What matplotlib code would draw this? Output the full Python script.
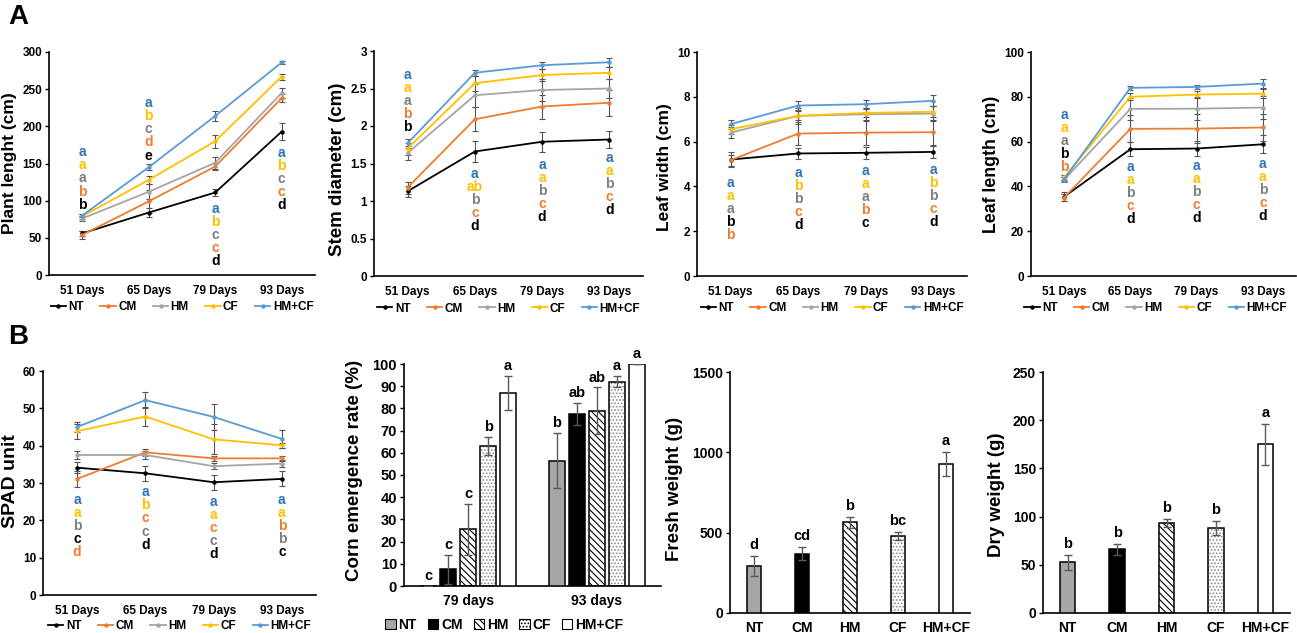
import numpy as np
import matplotlib
matplotlib.use("Agg")
import matplotlib.pyplot as plt
from matplotlib.lines import Line2D
from matplotlib.patches import Patch

plt.rcParams['font.family'] = ['Liberation Sans', 'DejaVu Sans']
plt.rcParams['font.weight'] = 'bold'
plt.rcParams['hatch.linewidth'] = 0.8

treatments = ['NT', 'CM', 'HM', 'CF', 'HM+CF']
days = ['51 Days', '65 Days', '79 Days', '93 Days']
line_colors = {'NT': 'black', 'CM': '#ED7D31', 'HM': '#A5A5A5', 'CF': '#FFC000', 'HM+CF': '#5B9BD5'}
letter_colors = {'NT': 'black', 'CM': '#ED7D31', 'HM': '#7F7F7F', 'CF': '#FFC000', 'HM+CF': '#2E75B6'}

# ---- Row A / B1 line data (mean, error) per treatment over days
plant_len = {'NT': [56, 84, 111, 193], 'CM': [54, 99, 146, 238], 'HM': [76, 112, 151, 245],
             'CF': [79, 128, 180, 267], 'HM+CF': [80, 145, 214, 286]}
plant_len_err = {'NT': [3, 6, 5, 12], 'CM': [5, 15, 5, 5], 'HM': [3, 10, 8, 7],
                 'CF': [3, 5, 9, 4], 'HM+CF': [2, 4, 7, 2]}

stem_dia = {'NT': [1.13, 1.66, 1.79, 1.82], 'CM': [1.18, 2.09, 2.26, 2.31], 'HM': [1.64, 2.41, 2.48, 2.50],
            'CF': [1.70, 2.57, 2.68, 2.71], 'HM+CF': [1.77, 2.71, 2.81, 2.85]}
stem_dia_err = {'NT': [0.07, 0.14, 0.13, 0.11], 'CM': [0.08, 0.16, 0.16, 0.17], 'HM': [0.09, 0.15, 0.15, 0.13],
                'CF': [0.08, 0.10, 0.08, 0.08], 'HM+CF': [0.06, 0.04, 0.05, 0.06]}

leaf_wid = {'NT': [5.2, 5.47, 5.5, 5.54], 'CM': [5.17, 6.36, 6.4, 6.42], 'HM': [6.4, 7.15, 7.22, 7.25],
            'CF': [6.55, 7.15, 7.28, 7.33], 'HM+CF': [6.78, 7.61, 7.67, 7.82]}
leaf_wid_err = {'NT': [0.33, 0.25, 0.27, 0.25], 'CM': [0.25, 0.5, 0.55, 0.55], 'HM': [0.25, 0.35, 0.3, 0.35],
                'CF': [0.2, 0.2, 0.2, 0.25], 'HM+CF': [0.2, 0.2, 0.2, 0.25]}

leaf_len = {'NT': [35.4, 56.6, 56.9, 58.8], 'CM': [35, 65.7, 65.8, 66.3], 'HM': [43, 74.6, 74.7, 75.2],
            'CF': [44, 80, 81, 81.4], 'HM+CF': [43.2, 84, 84.4, 85.9]}
leaf_len_err = {'NT': [2, 3, 3.5, 4], 'CM': [1.5, 6, 6.5, 6], 'HM': [1, 5, 5, 5],
                'CF': [1, 1.5, 1.5, 2], 'HM+CF': [1, 1, 1, 2]}

spad = {'NT': [34.1, 32.6, 30.2, 31.1], 'CM': [31.1, 38.2, 36.6, 36.6], 'HM': [37.5, 37.5, 34.5, 35.2],
        'CF': [43.9, 47.8, 41.7, 40.1], 'HM+CF': [45, 52.2, 47.7, 41.8]}
spad_err = {'NT': [1.5, 2, 2, 2], 'CM': [2.2, 1, 0.6, 0.6], 'HM': [1.2, 1, 0.8, 1],
            'CF': [2, 2.5, 4, 0.6], 'HM+CF': [1.3, 2.2, 3.5, 2.5]}

# significance letters: list of (treatment, letter) top to bottom for each day
plant_letters = [
    [('HM+CF', 'a'), ('CF', 'a'), ('HM', 'a'), ('CM', 'b'), ('NT', 'b')],
    [('HM+CF', 'a'), ('CF', 'b'), ('HM', 'c'), ('CM', 'd'), ('NT', 'e')],
    [('HM+CF', 'a'), ('CF', 'b'), ('HM', 'c'), ('CM', 'c'), ('NT', 'd')],
    [('HM+CF', 'a'), ('CF', 'b'), ('HM', 'c'), ('CM', 'c'), ('NT', 'd')]]
plant_letter_top = [165, 231, 89, 164]

stem_letters = [
    [('HM+CF', 'a'), ('CF', 'a'), ('HM', 'a'), ('CM', 'b'), ('NT', 'b')],
    [('HM+CF', 'a'), ('CF', 'ab'), ('HM', 'b'), ('CM', 'c'), ('NT', 'd')],
    [('HM+CF', 'a'), ('CF', 'a'), ('HM', 'b'), ('CM', 'c'), ('NT', 'd')],
    [('HM+CF', 'a'), ('CF', 'a'), ('HM', 'b'), ('CM', 'c'), ('NT', 'd')]]
stem_letter_top = [2.68, 1.36, 1.48, 1.57]

wid_letters = [
    [('HM+CF', 'a'), ('CF', 'a'), ('HM', 'a'), ('NT', 'b'), ('CM', 'b')],
    [('HM+CF', 'a'), ('CF', 'b'), ('HM', 'b'), ('CM', 'c'), ('NT', 'd')],
    [('HM+CF', 'a'), ('CF', 'a'), ('HM', 'a'), ('CM', 'b'), ('NT', 'c')],
    [('HM+CF', 'a'), ('CF', 'b'), ('HM', 'b'), ('CM', 'c'), ('NT', 'd')]]
wid_letter_top = [4.16, 4.6, 4.68, 4.75]

len_letters = [
    [('HM+CF', 'a'), ('CF', 'a'), ('HM', 'a'), ('NT', 'b'), ('CM', 'b')],
    [('HM+CF', 'a'), ('CF', 'a'), ('HM', 'b'), ('CM', 'c'), ('NT', 'd')],
    [('HM+CF', 'a'), ('CF', 'a'), ('HM', 'b'), ('CM', 'c'), ('NT', 'd')],
    [('HM+CF', 'a'), ('CF', 'a'), ('HM', 'b'), ('CM', 'c'), ('NT', 'd')]]
len_letter_top = [72, 48.7, 49.2, 50.2]

spad_letters = [
    [('HM+CF', 'a'), ('CF', 'a'), ('HM', 'b'), ('NT', 'c'), ('CM', 'd')],
    [('HM+CF', 'a'), ('CF', 'b'), ('CM', 'c'), ('HM', 'c'), ('NT', 'd')],
    [('HM+CF', 'a'), ('CF', 'a'), ('CM', 'c'), ('HM', 'c'), ('NT', 'd')],
    [('HM+CF', 'a'), ('CF', 'a'), ('CM', 'b'), ('HM', 'b'), ('NT', 'c')]]
spad_letter_top = [25.4, 27.5, 25, 25.4]

# ---- Bar data
emerg_days = ['79 days', '93 days']
emergence = {'NT': [0, 56.5], 'CM': [7.5, 77.5], 'HM': [25.5, 79], 'CF': [63, 92], 'HM+CF': [87, 100]}
emergence_err = {'NT': [0, 12.5], 'CM': [6.5, 5], 'HM': [11.5, 10.5], 'CF': [4, 2.5], 'HM+CF': [7.5, 0]}
emergence_letters = {'NT': ['c', 'b'], 'CM': ['c', 'ab'], 'HM': ['c', 'ab'], 'CF': ['b', 'a'], 'HM+CF': ['a', 'a']}

fresh_w = [293, 370, 564, 481, 928]
fresh_err = [60, 40, 33, 25, 73]
fresh_letters = ['d', 'cd', 'b', 'bc', 'a']

dry_w = [52.4, 65.9, 93.3, 88.4, 175]
dry_err = [8, 6, 4, 7, 21]
dry_letters = ['b', 'b', 'b', 'b', 'a']

bar_style = {
    'NT': dict(facecolor='#A6A6A6', hatch=None, hatchcolor=None),
    'CM': dict(facecolor='black', hatch=None, hatchcolor=None),
    'HM': dict(facecolor='white', hatch='\\\\\\\\\\', hatchcolor='black'),
    'CF': dict(facecolor='white', hatch='.....', hatchcolor='#8C8C8C'),
    'HM+CF': dict(facecolor='white', hatch=None, hatchcolor=None),
}

W, H = 1297, 633
fig = plt.figure(figsize=(W / 100, H / 100), dpi=100)


def px_axes(left, top, right, bottom):
    return fig.add_axes([left / W, 1 - bottom / H, (right - left) / W, (bottom - top) / H])


def style_axes(ax, lw=1.2):
    for s in ['top', 'right']:
        ax.spines[s].set_visible(False)
    for s in ['left', 'bottom']:
        ax.spines[s].set_linewidth(lw)
        ax.spines[s].set_color('black')


def line_panel(ax, data, err, ymax, ystep, ylabel, letters, letter_top, ylab_xy, lab_size=13,
               fmt='{:g}', leg_xy=(0.5, -0.145)):
    style_axes(ax)
    x = np.arange(len(days))
    for t in treatments:
        ax.errorbar(x, data[t], yerr=err[t], color=line_colors[t], lw=1.3, marker='o', ms=2.2,
                    ecolor='#555555', elinewidth=0.8, capsize=2, capthick=0.8, zorder=3)
    ax.set_xlim(-0.5, len(days) - 0.5)
    ax.set_ylim(0, ymax)
    yt = np.arange(0, ymax + ystep / 2, ystep)
    ax.set_yticks(yt)
    ax.set_yticklabels([fmt.format(round(v, 3)) for v in yt])
    ax.set_xticks(x)
    ax.set_xticklabels(days)
    ax.tick_params(axis='x', length=0, labelsize=8.5, pad=7)
    ax.tick_params(axis='y', length=3, width=1, labelsize=8.5, pad=2)
    ax.set_ylabel(ylabel, fontsize=lab_size, fontweight='bold')
    ax.yaxis.set_label_coords(*ylab_xy)
    for i, col in enumerate(letters):
        for k, (t, let) in enumerate(col):
            ax.annotate(let, xy=(i, letter_top[i]), xytext=(0, -9.4 * k), textcoords='offset points',
                        ha='center', va='center', fontsize=10, fontweight='bold',
                        color=letter_colors[t], annotation_clip=False)
    handles = [Line2D([], [], color=line_colors[t], lw=1.3, marker='o', ms=2.2) for t in treatments]
    ax.legend(handles, treatments, loc='center', bbox_to_anchor=leg_xy, ncol=5, frameon=False,
              fontsize=8.5, handlelength=1.3, handletextpad=0.2, columnspacing=1.4, borderaxespad=0)


def draw_bar(ax, x, h, width, t, err=None):
    st = bar_style[t]
    if st['hatch']:
        ax.bar(x, h, width, color=st['facecolor'], edgecolor=st['hatchcolor'], hatch=st['hatch'],
               linewidth=0, zorder=2)
        ax.bar(x, h, width, fill=False, edgecolor='black', linewidth=1.1, zorder=3)
    else:
        ax.bar(x, h, width, color=st['facecolor'], edgecolor='black', linewidth=1.1, zorder=3)
    if err is not None:
        ax.errorbar(x, h, yerr=err, fmt='none', ecolor='#595959', elinewidth=1.0, capsize=3,
                    capthick=1.0, zorder=4)


# ---- Row A
axA1 = px_axes(49, 52, 315, 275)
line_panel(axA1, plant_len, plant_len_err, 300, 50, 'Plant lenght (cm)', plant_letters,
           plant_letter_top, (-0.12, 0.5), lab_size=12.5)
axA2 = px_axes(374, 51, 643, 276)
line_panel(axA2, stem_dia, stem_dia_err, 3, 0.5, 'Stem diameter (cm)', stem_letters,
           stem_letter_top, (-0.105, 0.475), lab_size=13.5)
axA3 = px_axes(697, 52, 967, 276)
line_panel(axA3, leaf_wid, leaf_wid_err, 10, 2, 'Leaf width (cm)', wid_letters,
           wid_letter_top, (-0.093, 0.487), lab_size=12.5)
axA4 = px_axes(1031, 52, 1296, 276)
line_panel(axA4, leaf_len, leaf_len_err, 100, 20, 'Leaf length (cm)', len_letters,
           len_letter_top, (-0.117, 0.5), lab_size=12.8, leg_xy=(0.47, -0.145))

# ---- Row B line
axB1 = px_axes(43, 371, 316, 595)
line_panel(axB1, spad, spad_err, 60, 10, 'SPAD unit', spad_letters, spad_letter_top,
           (-0.088, 0.51), lab_size=14, leg_xy=(0.5, -0.14))

# ---- Emergence bars
axB2 = px_axes(404, 364, 661, 586)
style_axes(axB2)
offs = np.arange(len(treatments)) - (len(treatments) - 1) / 2
gx = np.arange(len(emerg_days))
bw = 0.124
for j, t in enumerate(treatments):
    for g in gx:
        xx = g + offs[j] * 0.155
        draw_bar(axB2, xx, emergence[t][g], bw, t, emergence_err[t][g])
        axB2.annotate(emergence_letters[t][g], xy=(xx, emergence[t][g] + emergence_err[t][g]),
                      xytext=(0, 2), textcoords='offset points', ha='center', va='bottom',
                      fontsize=10.5, fontweight='bold', annotation_clip=False)
axB2.set_xlim(-0.5, 1.5)
axB2.set_ylim(0, 100)
axB2.set_yticks(np.arange(0, 101, 10))
axB2.set_xticks(gx)
axB2.set_xticklabels(emerg_days)
axB2.tick_params(axis='x', length=0, labelsize=10, pad=6)
axB2.tick_params(axis='y', length=3, width=1, labelsize=10.5, pad=2)
axB2.set_ylabel('Corn emergence rate (%)', fontsize=13.5, fontweight='bold')
axB2.yaxis.set_label_coords(-0.16, 0.52)
leg_handles = []
for t in treatments:
    st = bar_style[t]
    leg_handles.append(Patch(facecolor=st['facecolor'], edgecolor='black', hatch=st['hatch'], linewidth=0.8))
axB2.legend(leg_handles, treatments, loc='center', bbox_to_anchor=(0.39, -0.176), ncol=5, frameon=False,
            fontsize=10, handlelength=0.75, handleheight=0.75, handletextpad=0.2, columnspacing=0.8,
            borderaxespad=0)

# ---- Fresh / dry weight bars
def weight_panel(ax, vals, errs, letters, ymax, ystep, ylabel, ylab_xy):
    style_axes(ax)
    x = np.arange(len(treatments))
    for i, t in enumerate(treatments):
        draw_bar(ax, x[i], vals[i], 0.31, t, errs[i])
        ax.annotate(letters[i], xy=(x[i], vals[i] + errs[i]), xytext=(0, 3), textcoords='offset points',
                    ha='center', va='bottom', fontsize=10.5, fontweight='bold')
    ax.set_xlim(-0.5, len(treatments) - 0.5)
    ax.set_ylim(0, ymax)
    ax.set_yticks(np.arange(0, ymax + 1, ystep))
    ax.set_xticks(x)
    ax.set_xticklabels(treatments)
    ax.tick_params(axis='x', length=0, labelsize=10, pad=6)
    ax.tick_params(axis='y', length=3, width=1, labelsize=10, pad=2)
    ax.set_ylabel(ylabel, fontsize=13.5, fontweight='bold')
    ax.yaxis.set_label_coords(*ylab_xy)


axB3 = px_axes(730, 372, 970, 613)
weight_panel(axB3, fresh_w, fresh_err, fresh_letters, 1500, 500, 'Fresh weight (g)', (-0.196, 0.515))
axB4 = px_axes(1043, 372, 1290, 613)
weight_panel(axB4, dry_w, dry_err, dry_letters, 250, 50, 'Dry weight (g)', (-0.154, 0.49))

fig.text(8 / W, 1 - 4 / H, 'A', fontsize=20, fontweight='bold', va='top', ha='left')
fig.text(8 / W, 1 - 324 / H, 'B', fontsize=20, fontweight='bold', va='top', ha='left')

fig.savefig('out.png', dpi=100)
